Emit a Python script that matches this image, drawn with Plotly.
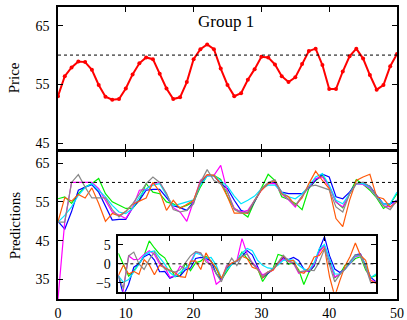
import plotly.graph_objects as go

x = list(range(51))

price = [53.0, 56.4, 57.9, 58.9, 58.8, 57.5, 54.9, 52.9, 52.4, 52.5,
         54.3, 56.7, 58.6, 59.6, 59.3, 56.8, 54.3, 52.5, 52.8, 55.4,
         59.3, 61.0, 61.8, 61.0, 57.7, 54.9, 53.0, 53.5, 55.8, 57.6,
         59.7, 59.6, 58.4, 56.4, 55.4, 56.2, 58.5, 60.7, 61.1, 58.3,
         54.2, 54.2, 57.2, 59.8, 61.1, 59.4, 56.6, 54.1, 54.9, 58.1, 60.2]

pred_blue = [50.0, 48.0, 52.5, 58.0, 58.8, 59.4, 57.5, 53.9, 50.3, 50.5,
             50.5, 53.5, 55.4, 58.0, 58.2, 58.2, 56.0, 54.0, 53.5, 52.8,
             55.0, 59.7, 61.8, 61.7, 59.7, 58.4, 55.4, 52.8, 52.1, 55.0,
             58.2, 59.7, 60.0, 57.5, 57.1, 57.1, 57.1, 58.6, 60.6, 62.1,
             61.4, 56.3, 55.8, 57.5, 59.7, 59.7, 59.0, 56.7, 54.5, 54.5, 55.4]

pred_green = [55.8, 56.3, 54.6, 57.1, 58.8, 59.7, 61.0, 57.1, 55.0, 54.1,
              53.3, 53.3, 55.4, 59.7, 57.5, 57.1, 55.0, 54.5, 53.5, 54.1,
              55.0, 58.8, 61.8, 61.8, 60.8, 56.3, 53.3, 52.4, 51.1, 55.0,
              58.4, 62.1, 60.5, 56.3, 55.6, 54.6, 53.0, 58.5, 60.5, 61.8,
              59.0, 55.0, 53.5, 57.1, 60.7, 59.5, 58.0, 56.0, 53.3, 54.5, 57.1]

pred_magenta = [30.0, 50.0, 60.0, 60.0, 60.0, 60.0, 58.4, 55.4, 52.4, 51.6,
                50.7, 53.5, 58.0, 58.2, 59.7, 60.0, 57.0, 53.5, 52.4, 50.0,
                55.0, 60.5, 61.8, 61.8, 64.4, 57.5, 53.3, 52.4, 52.8, 55.4,
                58.0, 59.7, 59.7, 57.0, 55.5, 53.7, 56.5, 58.8, 61.0, 61.4,
                59.0, 55.0, 53.7, 57.1, 59.7, 59.5, 58.5, 56.3, 54.0, 53.7, 55.4]

pred_cyan = [49.8, 51.5, 53.7, 56.7, 58.7, 59.7, 58.0, 56.3, 54.1, 52.4,
             52.0, 53.3, 56.3, 58.4, 59.3, 59.7, 56.7, 54.0, 54.5, 55.0,
             55.5, 59.3, 61.6, 61.8, 60.5, 59.0, 56.5, 54.5, 55.4, 56.5,
             58.4, 59.3, 59.3, 57.5, 56.3, 55.8, 57.1, 59.0, 61.4, 62.3,
             59.3, 55.4, 54.5, 57.1, 59.7, 59.7, 58.8, 56.3, 54.5, 54.5, 57.5]

pred_orange = [49.9, 56.1, 55.2, 56.9, 56.0, 58.6, 54.6, 50.0, 52.0, 51.4,
               52.6, 54.3, 55.2, 56.0, 60.0, 57.6, 52.8, 55.4, 53.3, 54.3,
               55.4, 60.1, 62.0, 61.8, 59.7, 56.3, 52.1, 52.1, 52.1, 55.4,
               58.0, 59.7, 60.5, 57.1, 56.3, 54.1, 56.0, 59.7, 62.9, 60.5,
               58.4, 50.7, 48.6, 55.4, 60.5, 61.4, 62.1, 56.3, 55.8, 53.7, 55.0]

pred_gray = [49.8, 49.8, 60.0, 62.0, 58.8, 56.0, 56.0, 56.0, 53.0, 51.1,
             52.5, 54.5, 57.0, 59.7, 61.4, 60.0, 57.2, 53.0, 52.4, 52.8,
             54.5, 60.0, 63.3, 60.5, 59.7, 57.5, 53.0, 52.1, 52.4, 55.4,
             58.4, 60.0, 60.7, 57.3, 55.6, 54.1, 56.5, 59.0, 59.3, 58.8,
             58.1, 53.7, 52.4, 57.0, 59.7, 60.1, 59.0, 56.3, 54.0, 53.0, 55.4]

series = [
    (pred_green, "#00ee00"),
    (pred_blue, "#0000ff"),
    (pred_magenta, "#ff00ff"),
    (pred_cyan, "#00e5ff"),
    (pred_orange, "#ff5a0a"),
    (pred_gray, "#888888"),
]

threshold = 60
title_text = "Group 1"

FONT = "Liberation Serif, Times New Roman, serif"

fig = go.Figure()

fig.add_trace(go.Scatter(x=x, y=price, mode="lines+markers",
                         line=dict(color="#ff0000", width=2),
                         marker=dict(color="#ff0000", size=4),
                         xaxis="x", yaxis="y", showlegend=False))

for vals, col in series:
    fig.add_trace(go.Scatter(x=x, y=vals, mode="lines",
                             line=dict(color=col, width=1.2),
                             xaxis="x2", yaxis="y2", showlegend=False))

for vals, col in series:
    resid = [v - p for v, p in zip(vals, price)]
    fig.add_trace(go.Scatter(x=x, y=resid, mode="lines",
                             line=dict(color=col, width=1.2),
                             xaxis="x3", yaxis="y3", showlegend=False))

# dotted reference lines
for xa, ya, lvl in (("x", "y", threshold), ("x2", "y2", threshold), ("x3", "y3", 0)):
    fig.add_trace(go.Scatter(x=[0, 50], y=[lvl, lvl], mode="lines",
                             line=dict(color="black", width=1, dash="dot"),
                             xaxis=xa, yaxis=ya, showlegend=False))

axis_common = dict(showline=True, linecolor="black", linewidth=1.5, mirror="allticks",
                   ticks="inside", ticklen=5, tickwidth=1, tickcolor="black",
                   showgrid=False, zeroline=False, automargin=False,
                   tickfont=dict(family=FONT, size=14, color="black"))

fig.update_layout(
    width=407, height=320,
    margin=dict(l=58, r=10, t=7, b=21),
    paper_bgcolor="white", plot_bgcolor="white",
    font=dict(family=FONT, size=14, color="black"),
    xaxis=dict(domain=[0, 1], range=[0, 50], tickvals=[0, 10, 20, 30, 40, 50],
               showticklabels=False, anchor="y", **axis_common),
    yaxis=dict(domain=[0.514, 1], range=[44, 68.2], tickvals=[45, 55, 65],
               anchor="x", ticklabelstandoff=4,
               title=dict(text="Price", font=dict(family=FONT, size=15), standoff=12),
               **axis_common),
    xaxis2=dict(domain=[0, 1], range=[0, 50], tickvals=[0, 10, 20, 30, 40, 50],
                anchor="y2", ticklabelstandoff=0, **axis_common),
    yaxis2=dict(domain=[0, 0.503], range=[30, 67.8], tickvals=[35, 45, 55, 65],
                anchor="x2", ticklabelstandoff=4,
                title=dict(text="Predictions", font=dict(family=FONT, size=15), standoff=11),
                **axis_common),
    xaxis3=dict(domain=[0.178, 0.938], range=[0, 50], tickvals=[10, 20, 30, 40],
                showticklabels=False, anchor="y3", **axis_common),
    yaxis3=dict(domain=[0.025, 0.216], range=[-7.4, 7.4], tickvals=[-5, 0, 5],
                anchor="x3", ticklabelstandoff=3, **axis_common),
    annotations=[dict(text=title_text, x=(226 - 58) / 339, y=(299 - 22) / 292,
                      xref="paper", yref="paper", yanchor="middle",
                      showarrow=False, font=dict(family=FONT, size=17, color="black"))],
)

fig.write_html("out.html", config={"displayModeBar": False},
               post_script="document.body.style.margin='0';document.body.style.overflow='hidden';")
